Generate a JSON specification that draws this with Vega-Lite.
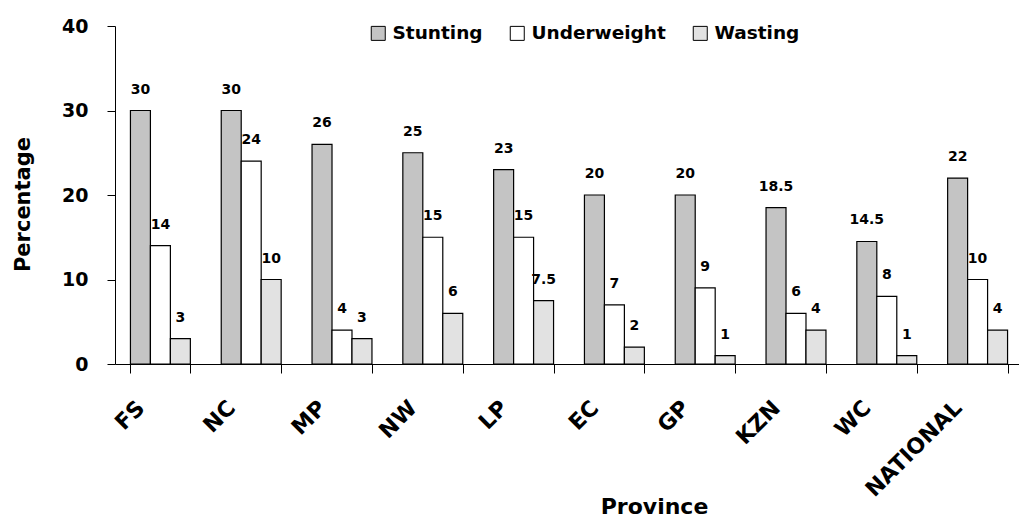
{
  "$schema": "https://vega.github.io/schema/vega-lite/v6.json",
  "autosize": {"type": "none"},
  "padding": {"left": 115, "top": 26, "right": 0, "bottom": 156},
  "width": 904,
  "height": 338,
  "background": "white",
  "data": {
    "values": [
      {"province": "FS", "measure": "Stunting", "value": 30},
      {"province": "FS", "measure": "Underweight", "value": 14},
      {"province": "FS", "measure": "Wasting", "value": 3},
      {"province": "NC", "measure": "Stunting", "value": 30},
      {"province": "NC", "measure": "Underweight", "value": 24},
      {"province": "NC", "measure": "Wasting", "value": 10},
      {"province": "MP", "measure": "Stunting", "value": 26},
      {"province": "MP", "measure": "Underweight", "value": 4},
      {"province": "MP", "measure": "Wasting", "value": 3},
      {"province": "NW", "measure": "Stunting", "value": 25},
      {"province": "NW", "measure": "Underweight", "value": 15},
      {"province": "NW", "measure": "Wasting", "value": 6},
      {"province": "LP", "measure": "Stunting", "value": 23},
      {"province": "LP", "measure": "Underweight", "value": 15},
      {"province": "LP", "measure": "Wasting", "value": 7.5},
      {"province": "EC", "measure": "Stunting", "value": 20},
      {"province": "EC", "measure": "Underweight", "value": 7},
      {"province": "EC", "measure": "Wasting", "value": 2},
      {"province": "GP", "measure": "Stunting", "value": 20},
      {"province": "GP", "measure": "Underweight", "value": 9},
      {"province": "GP", "measure": "Wasting", "value": 1},
      {"province": "KZN", "measure": "Stunting", "value": 18.5},
      {"province": "KZN", "measure": "Underweight", "value": 6},
      {"province": "KZN", "measure": "Wasting", "value": 4},
      {"province": "WC", "measure": "Stunting", "value": 14.5},
      {"province": "WC", "measure": "Underweight", "value": 8},
      {"province": "WC", "measure": "Wasting", "value": 1},
      {"province": "NATIONAL", "measure": "Stunting", "value": 22},
      {"province": "NATIONAL", "measure": "Underweight", "value": 10},
      {"province": "NATIONAL", "measure": "Wasting", "value": 4}
    ]
  },
  "encoding": {
    "x": {
      "field": "province",
      "type": "nominal",
      "sort": null,
      "scale": {"range": [0, 908], "paddingInner": 0.34, "paddingOuter": 0.17},
      "axis": {
        "title": "Province",
        "titleFont": "DejaVu Sans",
        "titleFontSize": 22,
        "titleFontWeight": "bold",
        "titleColor": "black",
        "titleX": 539,
        "titleY": 149,
        "titleBaseline": "alphabetic",
        "labelFont": "DejaVu Sans",
        "labelFontSize": 22,
        "labelFontWeight": "bold",
        "labelColor": "black",
        "labelAngle": -45,
        "labelAlign": "right",
        "labelBaseline": "middle",
        "labelPadding": 31,
        "labelOffset": -20,
        "tickBand": "extent",
        "tickSize": 9,
        "tickColor": "black",
        "domainColor": "black",
        "grid": false
      }
    },
    "xOffset": {"field": "measure", "type": "nominal", "sort": ["Stunting", "Underweight", "Wasting"]},
    "y": {
      "field": "value",
      "type": "quantitative",
      "scale": {"domain": [0, 40], "nice": false},
      "axis": {
        "title": "Percentage",
        "titleFont": "DejaVu Sans",
        "titleFontSize": 21,
        "titleFontWeight": "bold",
        "titleColor": "black",
        "titleX": -82,
        "titleY": 178,
        "titleBaseline": "bottom",
        "values": [0, 10, 20, 30, 40],
        "labelFont": "DejaVu Sans",
        "labelFontSize": 19,
        "labelFontWeight": "bold",
        "labelColor": "black",
        "labelPadding": 19,
        "tickSize": 8,
        "tickColor": "black",
        "domainColor": "black",
        "grid": false
      }
    }
  },
  "layer": [
    {
      "mark": {"type": "bar", "stroke": "black", "strokeWidth": 1.2},
      "encoding": {
        "fill": {
          "field": "measure",
          "type": "nominal",
          "sort": ["Stunting", "Underweight", "Wasting"],
          "scale": {"range": ["#c4c4c4", "#ffffff", "#e2e2e2"]},
          "legend": {
            "title": null,
            "orient": "none",
            "direction": "horizontal",
            "legendX": 254,
            "legendY": -2,
            "symbolType": "square",
            "symbolSize": 196,
            "symbolStrokeColor": "black",
            "symbolStrokeWidth": 1,
            "labelFont": "DejaVu Sans",
            "labelFontSize": 18.5,
            "labelFontWeight": "bold",
            "labelColor": "black",
            "labelOffset": 5,
            "columnPadding": 25
          }
        }
      }
    },
    {
      "mark": {
        "type": "text",
        "font": "DejaVu Sans",
        "fontSize": 14,
        "fontWeight": "bold",
        "color": "black",
        "baseline": "alphabetic",
        "dy": -17
      },
      "encoding": {
        "text": {"field": "value", "type": "quantitative", "format": "~g"}
      }
    }
  ],
  "config": {
    "view": {"stroke": null},
    "axis": {"domainWidth": 1, "tickWidth": 1}
  }
}
